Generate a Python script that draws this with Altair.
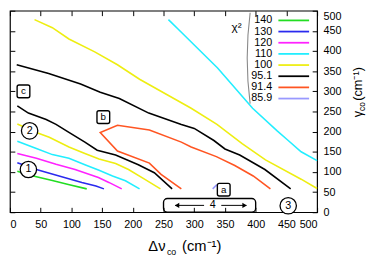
import altair as alt
import pandas as pd

# ---- data -------------------------------------------------------------
levels = ["140", "130", "120", "110", "100", "95.1", "91.4", "85.9"]
colors = ["#22dd22", "#2a2aee", "#ff22ff", "#22eeff", "#eeee11",
          "#000000", "#ff5522", "#9999ff"]

c140_x = [12, 38, 69, 95, 125]
c140_y = [102, 90, 79, 69, 58]
c130_x = [12, 43, 80, 117, 140, 153]
c130_y = [123, 106, 90, 74, 65, 58]
c120_x = [12, 43, 75, 106, 144, 161, 182]
c120_y = [146, 134, 119, 106, 86, 74, 58]
c110a_x = [12, 43, 69, 96, 122, 145, 167, 188, 211]
c110a_y = [176, 158, 143, 134, 118, 104, 90, 78, 58]
c110b_x = [258, 274, 338, 395, 435, 453, 474, 500]
c110b_y = [478, 454, 358, 258, 202, 178, 150, 128]
c100a_x = [12, 43, 64, 96, 122, 145, 172, 193, 219, 245]
c100a_y = [219, 198, 186, 162, 146, 132, 121, 106, 82, 58]
c100b_x = [40, 69, 96, 138, 175, 211, 253, 295, 337, 378, 416, 474, 500]
c100b_y = [478, 458, 430, 398, 366, 330, 294, 258, 218, 170, 130, 82, 59]
c951a_x = [12, 30, 59, 75, 96, 122, 142, 172, 209, 235, 264]
c951a_y = [264, 246, 230, 218, 198, 174, 154, 142, 118, 98, 58]
c951b_x = [11, 63, 115, 147, 178, 226, 279, 300, 332, 350, 374, 415, 457]
c951b_y = [366, 344, 318, 298, 282, 246, 218, 208, 178, 157, 142, 106, 58]
c914_x = [279, 246, 227, 175, 147, 175, 227, 279, 295, 336, 366, 396, 424]
c914_y = [58, 94, 122, 152, 198, 216, 204, 174, 162, 138, 116, 90, 58]
c859_x = [330, 336, 344]
c859_y = [58, 67, 63]

series = [
    ("140", "g", c140_x, c140_y), ("130", "b", c130_x, c130_y),
    ("120", "m", c120_x, c120_y), ("110", "c1", c110a_x, c110a_y),
    ("110", "c2", c110b_x, c110b_y), ("100", "y1", c100a_x, c100a_y),
    ("100", "y2", c100b_x, c100b_y), ("95.1", "k1", c951a_x, c951a_y),
    ("95.1", "k2", c951b_x, c951b_y), ("91.4", "o", c914_x, c914_y),
    ("85.9", "l", c859_x, c859_y),
]

circle_x = [30, 32, 453]
circle_y = [106, 202, 16]
circle_t = ["1", "2", "3"]
box_x = [348, 152, 22]
box_y = [56, 236, 300]
box_t = ["a", "b", "c"]
range_x = [250]
range_x2 = [400]
range_y = [0]
range_y2 = [34]
arrow_lx = [269, 316]
arrow_rx = [344, 385]
arrow_y = 17
range_label_x = 330

ticks = list(range(0, 501, 50))

# ---- tables ------------------------------------------------------------
rows = []
for lev, seg, xs, ys in series:
    for i, (xv, yv) in enumerate(zip(xs, ys)):
        rows.append({"x": xv, "y": yv, "level": lev, "seg": seg, "ord": i})
lines_df = pd.DataFrame(rows)

leg_df = pd.DataFrame({
    "level": levels,
    "ly": [476 - i * 27.7 for i in range(len(levels))],
    "lx": [427] * len(levels),
    "x1": [437] * len(levels),
    "x2": [487] * len(levels),
})

circ_df = pd.DataFrame({"x": circle_x, "y": circle_y, "t": circle_t})
box_df = pd.DataFrame({"x": box_x, "y": box_y, "t": box_t})
range_df = pd.DataFrame({"x": range_x, "x2": range_x2, "y": range_y, "y2": range_y2})
arrow_df = pd.DataFrame({"x": [arrow_lx[0], arrow_rx[0]], "x2": [arrow_lx[1], arrow_rx[1]],
                         "y": [arrow_y, arrow_y]})
head_df = pd.DataFrame({"x": [arrow_lx[0] + 3, arrow_rx[1] - 3], "y": [arrow_y, arrow_y],
                        "s": ["triangle-left", "triangle-right"]})
lab4_df = pd.DataFrame({"x": [range_label_x], "y": [arrow_y], "t": ["4"]})

xs_ = alt.Scale(domain=[0, 500], nice=False, zero=False)
ys_ = alt.Scale(domain=[0, 500], nice=False, zero=False)
col_scale = alt.Scale(domain=levels, range=colors)

FONT = "Liberation Sans"

ax_bottom = alt.Axis(orient="bottom", values=ticks, offset=-5, tickSize=5, labelPadding=7,
                     title=None, domain=False, grid=False)
ax_right = alt.Axis(orient="right", values=ticks, offset=-5, tickSize=5, labelPadding=6,
                    title=None, domain=False, grid=False,
                    labelBaseline={"condition": {"test": "datum.value >= 500", "value": "top"},
                                   "value": "middle"})
ax_top = alt.Axis(orient="top", values=ticks, offset=-5, tickSize=5, labels=False,
                  title=None, domain=False, grid=False)
ax_left = alt.Axis(orient="left", values=ticks, offset=-5, tickSize=5, labels=False,
                   title=None, domain=False, grid=False)

lines = alt.Chart(lines_df).mark_line(strokeWidth=1.6).encode(
    x=alt.X("x:Q", scale=xs_, axis=ax_bottom),
    y=alt.Y("y:Q", scale=ys_, axis=ax_right),
    color=alt.Color("level:N", scale=col_scale, legend=None),
    detail="seg:N",
    order="ord:Q",
)

# rounded-square symbol
rsq = ("M -0.7 -1 L 0.7 -1 Q 1 -1 1 -0.7 L 1 0.7 Q 1 1 0.7 1 L -0.7 1 "
       "Q -1 1 -1 0.7 L -1 -0.7 Q -1 -1 -0.7 -1 Z")

boxes = alt.Chart(box_df).mark_point(shape=rsq, size=169, filled=True, fill="white",
                                     stroke="black", strokeWidth=1.4, opacity=1).encode(
    x=alt.X("x:Q", scale=xs_, axis=ax_top),
    y=alt.Y("y:Q", scale=ys_, axis=ax_left),
)
box_text = alt.Chart(box_df).mark_text(fontSize=10, font=FONT, color="black").encode(
    x=alt.X("x:Q", scale=xs_, axis=None), y=alt.Y("y:Q", scale=ys_, axis=None), text="t:N")

circles = alt.Chart(circ_df).mark_point(shape="circle", size=280, filled=True, fill="white",
                                        stroke="black", strokeWidth=1.3, opacity=1).encode(
    x=alt.X("x:Q", scale=xs_, axis=None), y=alt.Y("y:Q", scale=ys_, axis=None))
circ_text = alt.Chart(circ_df).mark_text(fontSize=11, font=FONT, color="black").encode(
    x=alt.X("x:Q", scale=xs_, axis=None), y=alt.Y("y:Q", scale=ys_, axis=None), text="t:N")

rng = alt.Chart(range_df).mark_rect(cornerRadius=4, fill="white", fillOpacity=0,
                                    stroke="black", strokeWidth=1.4).encode(
    x=alt.X("x:Q", scale=xs_, axis=None), x2="x2:Q",
    y=alt.Y("y:Q", scale=ys_, axis=None), y2="y2:Q")
arrows = alt.Chart(arrow_df).mark_rule(color="black", strokeWidth=1).encode(
    x=alt.X("x:Q", scale=xs_, axis=None), x2="x2:Q",
    y=alt.Y("y:Q", scale=ys_, axis=None))
heads = alt.Chart(head_df).mark_point(filled=True, color="black", size=28, opacity=1).encode(
    x=alt.X("x:Q", scale=xs_, axis=None), y=alt.Y("y:Q", scale=ys_, axis=None),
    shape=alt.Shape("s:N", scale=None))
lab4 = alt.Chart(lab4_df).mark_text(fontSize=11, font=FONT, color="black").encode(
    x=alt.X("x:Q", scale=xs_, axis=None), y=alt.Y("y:Q", scale=ys_, axis=None), text="t:N")

# manual legend
leg_lines = alt.Chart(leg_df).mark_rule(strokeWidth=1.8).encode(
    x=alt.X("x1:Q", scale=xs_, axis=None), x2="x2:Q",
    y=alt.Y("ly:Q", scale=ys_, axis=None),
    color=alt.Color("level:N", scale=col_scale, legend=None))
leg_text = alt.Chart(leg_df).mark_text(align="right", baseline="middle", fontSize=11,
                                       font=FONT, color="black").encode(
    x=alt.X("lx:Q", scale=xs_, axis=None), y=alt.Y("ly:Q", scale=ys_, axis=None),
    text="level:N")
chi_df = pd.DataFrame({"x": [369], "y": [460], "t": ["χ²"]})
chi = alt.Chart(chi_df).mark_text(fontSize=12, font=FONT, color="black").encode(
    x=alt.X("x:Q", scale=xs_, axis=None), y=alt.Y("y:Q", scale=ys_, axis=None), text="t:N")
bracket = alt.Chart(pd.DataFrame({"a": [0]})).mark_arc(
    radius=362, radius2=360.9, theta=4.5836, theta2=4.8412, color="#888888").encode(
    x=alt.value(604), y=alt.value(48.5))

# axis titles (with sub/superscripts)
def txt(t, x, y, size, angle=0, align="left"):
    kw = dict(fontSize=size, font=FONT, color="black", align=align, baseline="alphabetic")
    if angle:
        kw["angle"] = angle
    return alt.Chart(pd.DataFrame({"t": [t]})).mark_text(**kw).encode(
        x=alt.value(x), y=alt.value(y), text="t:N")

titles = [
    txt("Δν", 159, 246, 15, align="right"),
    txt("co", 160.5, 250, 9),
    txt("(cm⁻¹)", 176, 246, 15),
    txt("γ", 360, 109, 13, angle=270),
    txt("co", 362.5, 102.5, 8.5, angle=270),
    txt("(cm⁻¹)", 360, 92, 13, angle=270),
]

chart = alt.layer(
    lines, rng, arrows, heads, lab4, boxes, box_text, circles, circ_text,
    leg_lines, leg_text, chi, bracket, *titles
).resolve_axis(x="independent", y="independent").properties(
    width=314, height=206,
    autosize=alt.AutoSizeParams(type="none"),
    padding={"left": 2, "top": 0, "right": 50, "bottom": 45},
).configure_view(stroke="black", strokeWidth=1.2).configure_axis(
    labelFont=FONT, labelFontSize=11, labelColor="black",
    tickColor="black", tickWidth=1,
)

chart.save("out.html", embed_options={"renderer": "svg", "actions": False})
